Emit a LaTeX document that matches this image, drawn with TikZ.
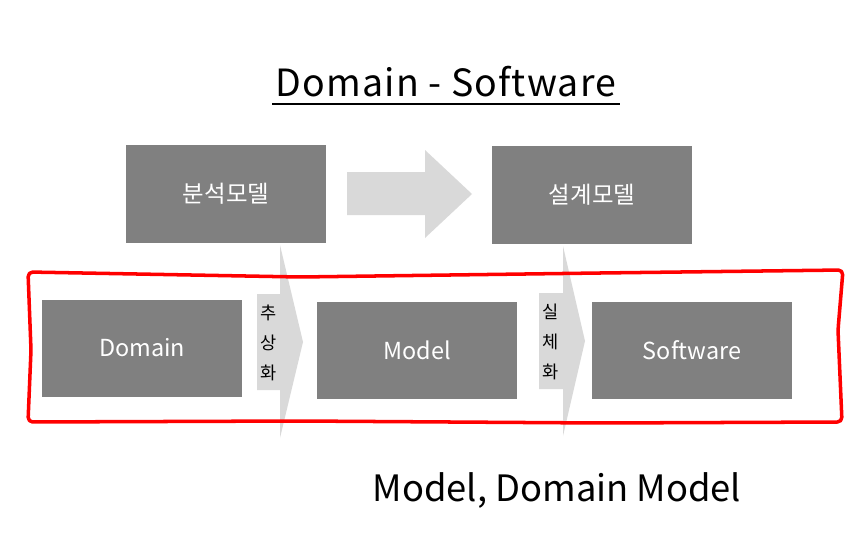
\documentclass[tikz,border=0pt]{standalone}
\usepackage{fontspec}
\setmainfont{Noto Sans CJK KR}
\usepackage{tikz}
\usetikzlibrary{positioning,calc}
\definecolor{boxgray}{HTML}{808080}
\definecolor{arrowgray}{HTML}{D9D9D9}
\newcommand{\mnode}[3]{\node [mbox] (#1) at (#2) {#3}}
\newcommand{\vlabel}[3]{\node [vtext] (#1) at (#2) {#3}}

\begin{document}
\begin{tikzpicture}[x=0.03cm,y=-0.03cm,
  mbox/.style={fill=boxgray, text=white, minimum width=6cm, minimum height=2.91cm,
    inner sep=0pt, font=\fontsize{20}{24}\selectfont},
  vtext/.style={align=center, font=\fontsize{15}{25.5}\selectfont, inner sep=0pt},
  big/.style={font=\fontsize{32}{36}\selectfont\addfontfeature{LetterSpace=3}, inner sep=0pt},
  caption/.style={font=\fontsize{31}{36}\selectfont, inner sep=0pt}]
\useasboundingbox (0,0) rectangle (868,533);

% title
\node [big] (TITLE) at (446,82) {Domain - Software};
\draw [line width=1.7pt] (272,104) -- (620,104);

% upper row
\fill [arrowgray] (347,172) -- (425,172) -- (425,150) -- (472,194)
  -- (425,238) -- (425,215) -- (347,215) -- cycle;
\mnode{ANA}{226,194}{분석모델};
\mnode{DES}{592,195}{설계모델};

% lower row
\fill [arrowgray] (257,294) -- (280,294) -- (280,245) -- (303,342)
  -- (280,438) -- (280,390) -- (257,390) -- cycle;
\fill [arrowgray] (539,293) -- (563,293) -- (563,246) -- (585,341)
  -- (563,436) -- (563,389) -- (539,389) -- cycle;
\vlabel{ABS}{269,343}{추\\상\\화};
\vlabel{REA}{551,342}{실\\체\\화};

\draw [red, line width=3pt, line join=round, rounded corners=4pt]
  (28,272) -- (300,277) -- (600,273) -- (843,270) -- (838,330)
  -- (842,422) -- (600,423) -- (300,421) -- (28,422) -- (31,350) -- cycle;

\mnode{DOM}{142,348}{Domain};
\mnode{MOD}{417,350}{Model};
\mnode{SW}{692,350}{Software};

\node [caption] (CAP) at (557,490) {Model, Domain Model};

\end{tikzpicture}
\end{document}
